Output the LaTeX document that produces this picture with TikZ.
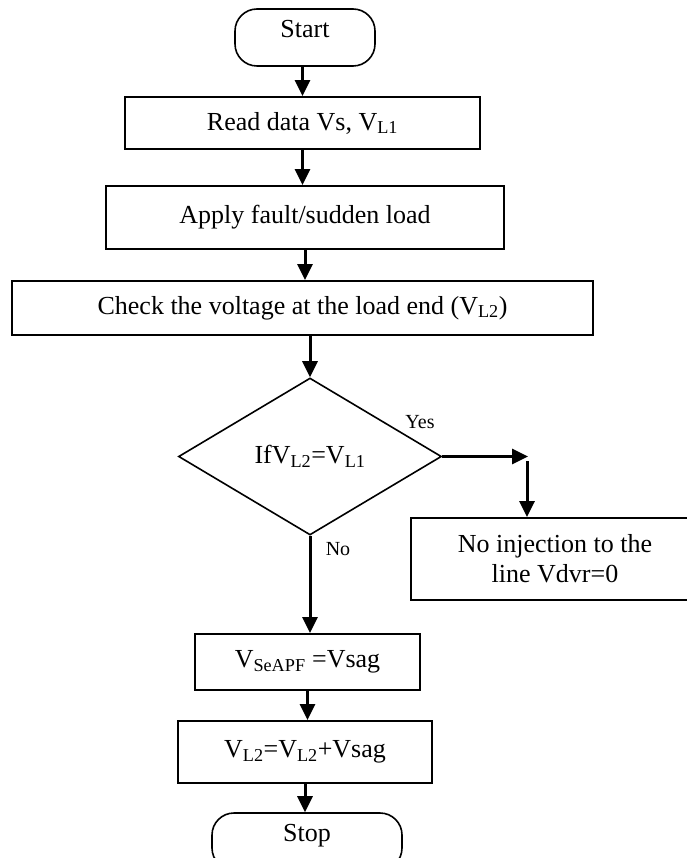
\documentclass[tikz,border=0pt]{standalone}
\usepackage{fontspec}
\setmainfont{Liberation Serif}
\usetikzlibrary{shapes.geometric,arrows.meta}

\begin{document}
\begin{tikzpicture}[x=1pt, y=-1pt,
        every node/.style={font=\fontsize{26}{30}\selectfont},
        caja/.style={draw, line width=1.8pt, inner sep=0pt},
        termino/.style={draw, line width=1.6pt, rounded corners=22pt, inner sep=0pt, text height=14pt, text depth=14pt},
        decision/.style={draw, diamond, aspect=1.67, line width=1.6pt, inner sep=0pt},
        flecha/.style={line width=3pt, -{Triangle[length=16pt, width=15pt]}},
        etiqueta/.style={font=\fontsize{20}{24}\selectfont}]
        \useasboundingbox (0,0) rectangle (686,858);
        % Bloques del diagrama
        \node[termino, minimum width=140pt, minimum height=57pt] (inicio) at (305,37.5) {Start};
        \node[caja, minimum width=355pt, minimum height=52pt] (leer) at (302.5,123) {Read data Vs, V\textsubscript{L1}};
        \node[caja, minimum width=398pt, minimum height=63pt] (falla) at (305,217.5) {Apply fault/sudden load};
        \node[caja, minimum width=581pt, minimum height=54pt] (revisar) at (302.5,308) {Check the voltage at the load end (V\textsubscript{L2})};
        \node[decision, minimum width=263pt, minimum height=157pt] (dec) at (310,456.5) {IfV\textsubscript{L2}=V\textsubscript{L1}};
        \node[caja, minimum width=288pt, minimum height=82pt, align=center] (noiny) at (555,559) {No injection to the\\line Vdvr=0};
        \node[caja, minimum width=225pt, minimum height=56pt] (vsag) at (307.5,662) {V\textsubscript{SeAPF} =Vsag};
        \node[caja, minimum width=254pt, minimum height=62pt] (suma) at (305,752) {V\textsubscript{L2}=V\textsubscript{L2}+Vsag};
        \node[termino, minimum width=190pt, minimum height=57pt] (fin) at (307,841.5) {Stop};
        % Etiquetas de la decision
        \node[etiqueta] (si) at (420,422) {Yes};
        \node[etiqueta] (no) at (338,549) {No};
        \coordinate (esq) at (528,456.5);
        \coordinate (baja) at (527,461);
        % Flechas
        \draw[flecha] (inicio.south -| leer.north) -- (leer.north);
        \draw[flecha] (leer.south) -- (leer.south |- falla.north);
        \draw[flecha] (falla.south) -- (falla.south |- revisar.north);
        \draw[flecha] (dec.north |- revisar.south) -- (dec.north);
        \draw[flecha] (dec.east) -- (esq);
        \draw[flecha] (baja) -- (baja |- noiny.north);
        \draw[flecha] (dec.south) -- (dec.south |- vsag.north);
        \draw[flecha] (vsag.south) -- (vsag.south |- suma.north);
        \draw[flecha] (suma.south) -- (suma.south |- fin.north);
    \end{tikzpicture}
\end{document}
